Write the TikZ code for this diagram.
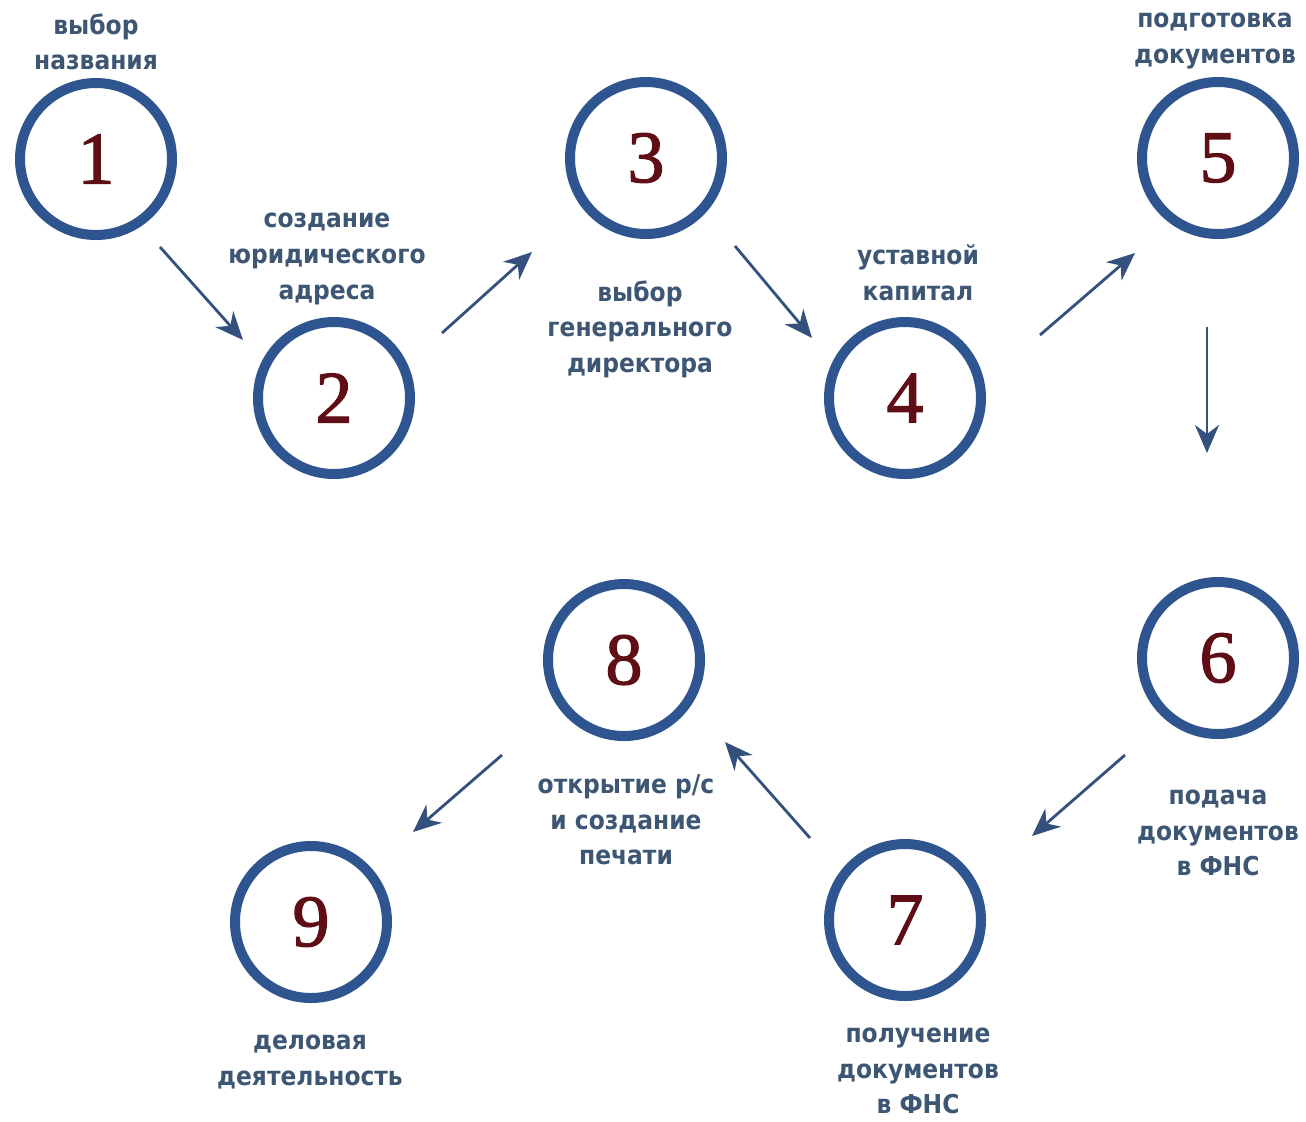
\documentclass[tikz,border=0pt]{standalone}
\usepackage{fontspec}
\setmainfont{DejaVu Sans Condensed}
\newfontfamily\digitfont[FakeBold=1.6]{Liberation Serif}
\usetikzlibrary{arrows.meta}
\definecolor{ringblue}{HTML}{2F5590}
\definecolor{labelblue}{HTML}{3D5674}
\definecolor{arrowblue}{HTML}{34507C}
\definecolor{digitred}{HTML}{5E0E14}
\tikzset{
  stepring/.style={circle,draw=ringblue,line width=5pt,minimum size=76pt,inner sep=0pt,
    font=\digitfont\fontsize{37}{37}\selectfont,text=digitred},
  steplabel/.style={align=center,text=labelblue,font=\bfseries\fontsize{13}{17.8}\selectfont,inner sep=0pt},
  flow/.style={draw=arrowblue,line width=1.4pt,-{Stealth[length=14pt,width=12pt,inset=4.5pt]}}
}
\begin{document}
\begin{tikzpicture}[x=0.5pt,y=-0.5pt]
\useasboundingbox (0,0) rectangle (1306,1121);
\fill[white] (0,0) rectangle (1306,1121);
% circles
\node[stepring] (c1) at (96,159) {1};
\node[stepring] (c2) at (334,398) {2};
\node[stepring] (c3) at (646,158) {3};
\node[stepring] (c4) at (905,398) {4};
\node[stepring] (c5) at (1218,158) {5};
\node[stepring] (c6) at (1218,658) {6};
\node[stepring] (c7) at (905,920) {7};
\node[stepring] (c8) at (624,660) {8};
\node[stepring] (c9) at (311,922) {9};
% labels
\node[steplabel] (l1) at (96,42) {выбор\\названия};
\node[steplabel] (l2) at (327,259) {создание\\юридического\\адреса};
\node[steplabel] (l3) at (640,329) {выбор\\генерального\\директора};
\node[steplabel] (l4) at (918,273) {уставной\\капитал};
\node[steplabel] (l5) at (1215,41) {подготовка\\документов};
\node[steplabel] (l6) at (1218,833) {подача\\документов\\в ФНС};
\node[steplabel] (l7) at (918,1071) {получение\\документов\\в ФНС};
\node[steplabel] (l8) at (626,820) {открытие р/с\\и создание\\печати};
\node[steplabel] (l9) at (310,1062) {деловая\\деятельность};
% arrow anchors
\coordinate (a12) at (160,247); \coordinate (b12) at (243,340);
\coordinate (a23) at (442,333); \coordinate (b23) at (532,252);
\coordinate (a34) at (735,246); \coordinate (b34) at (812,338);
\coordinate (a45) at (1040,335); \coordinate (b45) at (1135,253);
\coordinate (a56) at (1207,327); \coordinate (b56) at (1207,453);
\coordinate (a67) at (1125,755); \coordinate (b67) at (1032,836);
\coordinate (a78) at (810,838); \coordinate (b78) at (725,742);
\coordinate (a89) at (502,755); \coordinate (b89) at (413,832);
\draw[flow] (a12) -- (b12);
\draw[flow] (a23) -- (b23);
\draw[flow] (a34) -- (b34);
\draw[flow] (a45) -- (b45);
\draw[flow] (a56) -- (b56);
\draw[flow] (a67) -- (b67);
\draw[flow] (a78) -- (b78);
\draw[flow] (a89) -- (b89);
\end{tikzpicture}
\end{document}
